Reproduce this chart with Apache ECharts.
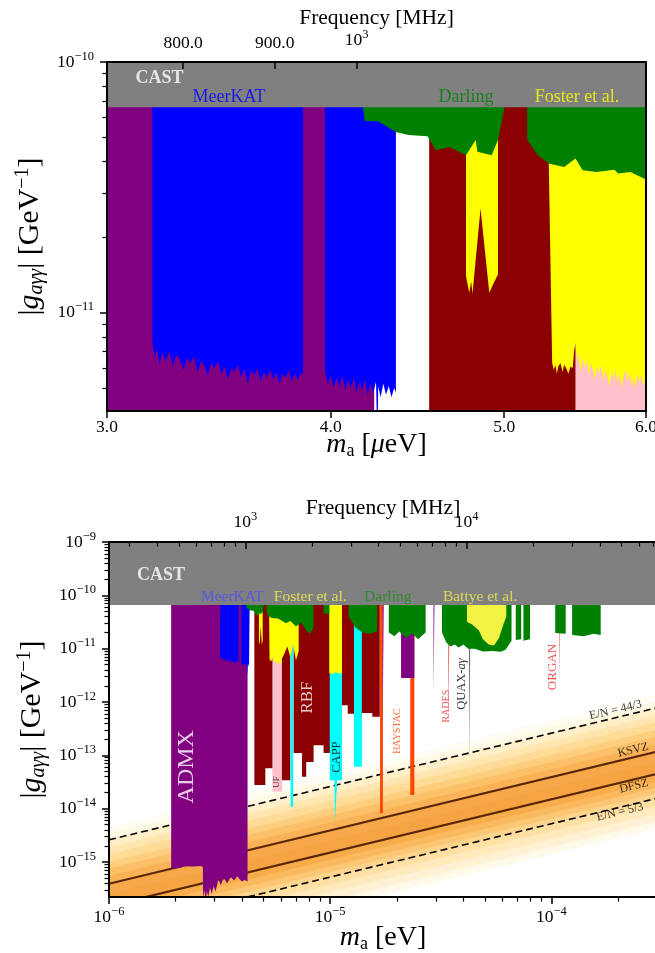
<!DOCTYPE html>
<html><head><meta charset="utf-8">
<script src="https://cdn.jsdelivr.net/npm/echarts@6/dist/echarts.min.js"></script>
<style>html,body{margin:0;padding:0;background:#fff}#c{width:655px;height:953px}</style>
</head><body><div id="c"></div>
<script>
// ================= DATA (mass in eV, coupling in GeV^-1) =================
const castLimit = [[1e-6, 6.6e-11], [3e-4, 6.6e-11]];

const admx = [[1.91e-6,7.7e-16],[2.0e-6,7.5e-16],[2.1e-6,7.8e-16],[2.18e-6,8.3e-16],[2.4e-6,8.2e-16],[2.6e-6,8.4e-16],[2.655e-6,8.0e-16],
 [2.665e-6,2.0e-16],[2.7e-6,3.0e-16],[2.73e-6,1.9e-16],[2.77e-6,2.8e-16],[2.81e-6,2.2e-16],[2.86e-6,3.3e-16],[2.91e-6,2.5e-16],[2.97e-6,3.5e-16],[3.03e-6,2.8e-16],[3.08e-6,3.7e-16],
 [3.12e-6,4.9e-16],[3.2e-6,3.7e-16],[3.3e-6,5.0e-16],[3.42e-6,4.0e-16],[3.55e-6,5.2e-16],[3.68e-6,4.5e-16],[3.8e-6,5.4e-16],[3.9e-6,4.7e-16],[4.0e-6,4.3e-16],[4.1e-6,4.6e-16],[4.23e-6,4.3e-16],
 [4.3e-6,'-'],
 [1.725e-5,2.8e-13],[1.755e-5,2.8e-13],[1.8e-5,'-'],
 [2.09e-5,2.8e-12],[2.40e-5,2.8e-12],[2.6e-5,'-'],
 [2.93e-5,1.5e-12],[2.98e-5,1.5e-12]];

const meerkat = [[3.180e-6,7.7e-12],[3.190e-6,6.6e-12],[3.200e-6,7.2e-12],[3.210e-6,6.2e-12],[3.220e-6,6.9e-12],[3.235e-6,6.4e-12],[3.250e-6,7.0e-12],[3.265e-6,6.1e-12],
 [3.280e-6,6.8e-12],[3.295e-6,6.5e-12],[3.310e-6,5.9e-12],[3.325e-6,6.6e-12],[3.340e-6,6.3e-12],[3.355e-6,6.7e-12],[3.370e-6,5.8e-12],[3.385e-6,6.4e-12],[3.400e-6,6.2e-12],
 [3.415e-6,5.6e-12],[3.430e-6,6.3e-12],[3.445e-6,6.0e-12],[3.460e-6,6.4e-12],[3.475e-6,5.7e-12],[3.490e-6,6.1e-12],[3.505e-6,5.4e-12],[3.520e-6,6.0e-12],[3.535e-6,5.8e-12],
 [3.550e-6,6.2e-12],[3.565e-6,5.5e-12],[3.580e-6,6.0e-12],[3.595e-6,5.2e-12],[3.610e-6,5.9e-12],[3.625e-6,5.6e-12],[3.640e-6,6.0e-12],[3.655e-6,5.3e-12],[3.670e-6,5.8e-12],
 [3.685e-6,5.5e-12],[3.700e-6,5.9e-12],[3.715e-6,5.4e-12],[3.730e-6,5.8e-12],[3.745e-6,5.2e-12],[3.760e-6,5.7e-12],[3.775e-6,5.5e-12],[3.790e-6,5.9e-12],[3.805e-6,5.3e-12],
 [3.820e-6,5.7e-12],[3.835e-6,5.4e-12],[3.850e-6,5.8e-12],[3.860e-6,5.6e-12],
 [3.9e-6,'-'],
 [3.970e-6,5.9e-12],[3.985e-6,5.2e-12],[4.000e-6,5.6e-12],[4.015e-6,5.0e-12],[4.030e-6,5.5e-12],[4.045e-6,5.1e-12],[4.060e-6,5.6e-12],[4.075e-6,4.9e-12],[4.090e-6,5.4e-12],
 [4.105e-6,5.0e-12],[4.120e-6,5.5e-12],[4.135e-6,4.8e-12],[4.150e-6,5.3e-12],[4.165e-6,4.9e-12],[4.180e-6,5.4e-12],[4.195e-6,4.7e-12],[4.210e-6,5.2e-12],[4.225e-6,4.8e-12],
 [4.240e-6,5.3e-12],[4.248e-6,3.0e-12],[4.252e-6,5.1e-12],[4.265e-6,4.6e-12],[4.280e-6,5.2e-12],[4.295e-6,4.7e-12],[4.310e-6,5.1e-12],[4.325e-6,4.6e-12],[4.340e-6,5.0e-12],[4.350e-6,4.8e-12]];

const ufLimit = [[5.48e-6,2.1e-14],[6.05e-6,2.1e-14]];

const rbf = [[4.54e-6,2.76e-14],[5.09e-6,2.76e-14],[5.09e-6,5.7e-14],[5.48e-6,5.7e-14],[5.7e-6,'-'],
 [6.05e-6,3.4e-14],[6.6e-6,3.4e-14],[6.7e-6,'-'],
 [6.83e-6,1.1e-13],[7.45e-6,1.1e-13],[7.45e-6,3.95e-14],[7.79e-6,3.95e-14],[7.79e-6,7.5e-14],[8.41e-6,7.5e-14],[8.41e-6,1.55e-13],[9.33e-6,1.55e-13],
 [9.33e-6,1.1e-13],[1.0e-5,1.1e-13],[1.0e-5,3e-13],[1.13e-5,3e-13],[1.13e-5,8.7e-13],[1.2e-5,8.7e-13],[1.2e-5,6e-13],[1.28e-5,6e-13],[1.28e-5,5e-13],
 [1.39e-5,5e-13],[1.39e-5,6.2e-13],[1.55e-5,6.2e-13],[1.55e-5,5.3e-13],[1.675e-5,5.3e-13]];

const capp = [[6.62e-6,1.08e-14],[6.80e-6,1.08e-14],[7.0e-6,'-'],
 [9.95e-6,3.4e-14],[1.045e-5,3.4e-14],[1.05e-5,5.3e-15],[1.07e-5,5.3e-15],[1.075e-5,3.4e-14],[1.13e-5,3.4e-14],[1.2e-5,'-'],
 [1.28e-5,6.1e-14],[1.39e-5,6.1e-14]];

const haystac = [[1.68e-5,8.2e-15],[1.73e-5,8.2e-15],[2.0e-5,'-'],[2.30e-5,1.8e-14],[2.40e-5,1.8e-14]];
const rades = [[3.42e-5,4.6e-13],[3.49e-5,4.6e-13]];
const quax = [[4.25e-5,7.0e-14],[4.33e-5,7.0e-14]];
const organ = [[1.088e-4,2.23e-12],[1.106e-4,2.23e-12]];

const foster = [[4.760e-6,1.40e-11],[4.770e-6,1.38e-11],[4.780e-6,1.20e-11],[4.792e-6,1.33e-11],[4.800e-6,1.19e-11],[4.810e-6,1.21e-11],[4.850e-6,2.60e-11],[4.905e-6,1.20e-11],
 [4.930e-6,1.30e-11],[4.950e-6,1.38e-11],[4.960e-6,1.42e-11],[5.1e-6,'-'],
 [5.295e-6,3.9e-11],[5.318e-6,6.3e-12],[5.33e-6,5.9e-12],[5.34e-6,6.2e-12],[5.35e-6,5.7e-12],[5.36e-6,6.1e-12],[5.375e-6,6.3e-12],[5.39e-6,5.8e-12],[5.40e-6,6.2e-12],
 [5.415e-6,6.0e-12],[5.43e-6,5.7e-12],[5.445e-6,6.1e-12],[5.46e-6,6.0e-12],[5.47e-6,7.0e-12],[5.48e-6,7.6e-12],[5.49e-6,6.4e-12],[5.50e-6,6.9e-12],[5.515e-6,5.8e-12],
 [5.53e-6,6.6e-12],[5.545e-6,6.0e-12],[5.56e-6,6.5e-12],[5.575e-6,5.6e-12],[5.59e-6,6.3e-12],[5.605e-6,5.9e-12],[5.62e-6,5.4e-12],[5.635e-6,6.1e-12],[5.65e-6,5.7e-12],
 [5.665e-6,6.2e-12],[5.68e-6,5.3e-12],[5.695e-6,5.9e-12],[5.71e-6,5.5e-12],[5.725e-6,5.1e-12],[5.74e-6,5.8e-12],[5.755e-6,5.4e-12],[5.77e-6,5.9e-12],[5.785e-6,5.2e-12],
 [5.80e-6,5.7e-12],[5.815e-6,5.0e-12],[5.83e-6,5.6e-12],[5.845e-6,5.9e-12],[5.86e-6,5.3e-12],[5.875e-6,5.8e-12],[5.89e-6,5.1e-12],[5.905e-6,5.5e-12],[5.92e-6,5.0e-12],
 [5.935e-6,5.7e-12],[5.95e-6,5.3e-12],[5.965e-6,5.6e-12],[5.98e-6,5.1e-12],[5.995e-6,5.4e-12],
 [6.05e-6,6.5e-12],[6.2e-6,8e-12],[6.4e-6,1.1e-11],[6.6e-6,7e-12],[6.8e-6,1.2e-11],[7.0e-6,6e-12],[7.2e-6,9e-12],[8.0e-6,'-'],
 [9.9e-6,3.5e-12],[1.02e-5,3.3e-12],[1.06e-5,3.6e-12],[1.1e-5,3.4e-12],[1.13e-5,3.5e-12]];

const darling = [[4.17e-6,6.5e-11],[4.18e-6,5.82e-11],[4.25e-6,5.80e-11],[4.35e-6,5.26e-11],[4.42e-6,5.11e-11],[4.53e-6,5.06e-11],[4.58e-6,4.45e-11],[4.66e-6,4.58e-11],
 [4.76e-6,4.25e-11],[4.82e-6,4.88e-11],[4.83e-6,4.38e-11],[4.92e-6,4.25e-11],[4.96e-6,4.88e-11],[5.0e-6,6.5e-11],[5.08e-6,'-'],
 [5.15e-6,4.9e-11],[5.22e-6,4.25e-11],[5.30e-6,3.93e-11],[5.40e-6,3.81e-11],[5.48e-6,4.12e-11],[5.53e-6,3.70e-11],[5.63e-6,3.64e-11],[5.76e-6,3.72e-11],
 [5.79e-6,3.59e-11],[5.88e-6,3.64e-11],[6.0e-6,3.40e-11],
 [6.3e-6,3.0e-11],[6.6e-6,3.3e-11],[7.0e-6,2.6e-11],[7.4e-6,3.1e-11],[7.8e-6,2.2e-11],[8.1e-6,1.9e-11],[8.4e-6,2.4e-11],[8.8e-6,'-'],
 [9.33e-6,4.5e-11],[9.9e-6,4.5e-11],[1.1e-5,'-'],
 [1.21e-5,4.0e-11],[1.3e-5,2.5e-11],[1.4e-5,2.0e-11],[1.5e-5,1.9e-11],[1.63e-5,2.1e-11],[1.7e-5,'-'],
 [1.84e-5,2.0e-11],[1.95e-5,1.7e-11],[2.05e-5,2.1e-11],[2.2e-5,1.6e-11],[2.35e-5,1.9e-11],[2.5e-5,1.5e-11],[2.62e-5,1.8e-11],[2.7e-5,2.0e-11],[2.9e-5,'-'],
 [3.2e-5,2.0e-11],[3.35e-5,1.3e-11],[3.5e-5,1.1e-11],[3.65e-5,1.2e-11],[3.8e-5,1.05e-11],[4.0e-5,1.2e-11],[4.2e-5,1.0e-11],[4.5e-5,1.0e-11],[4.9e-5,8.8e-12],
 [5.4e-5,9.0e-12],[5.9e-5,8.7e-12],[6.2e-5,9.5e-12],[6.6e-5,1.4e-11],[6.75e-5,'-'],
 [6.9e-5,1.45e-11],[7.3e-5,1.5e-11],[7.4e-5,'-'],[7.47e-5,1.4e-11],[8.0e-5,1.5e-11],[9e-5,'-'],
 [1.04e-4,1.96e-11],[1.16e-4,1.9e-11],[1.2e-4,'-'],
 [1.24e-4,1.8e-11],[1.4e-4,1.7e-11],[1.55e-4,1.9e-11],[1.67e-4,1.8e-11]];

const battye = [[4.15e-5,3.2e-11],[4.4e-5,2.8e-11],[4.7e-5,2.2e-11],[4.9e-5,1.5e-11],[5.2e-5,1.2e-11],[5.5e-5,1.15e-11],[5.8e-5,1.6e-11],[6.0e-5,2.5e-11],[6.25e-5,4.0e-11]];

// QCD axion band and model lines (values at m = 1e-6 eV and m = 3e-4 eV)
const bandLeft  = [4.6e-15,3.4e-15,2.6e-15,1.9e-15,1.4e-15,1.0e-15,7.5e-16,5.5e-16,3.9e-16,2.5e-16,1.5e-16,1.1e-16,8.3e-17,6.5e-17,5.2e-17,3.8e-17,2.7e-17,1.9e-17,1.4e-17];
const bandRight = [1.38e-12,1.02e-12,7.8e-13,5.7e-13,4.2e-13,3.0e-13,2.25e-13,1.65e-13,1.17e-13,7.5e-14,4.5e-14,3.3e-14,2.49e-14,1.95e-14,1.56e-14,1.14e-14,8.1e-15,5.7e-15,4.2e-15];
const ksvz  = [[1e-6,3.9e-16],[3e-4,1.17e-13]];
const dfsz  = [[1e-6,1.5e-16],[3e-4,4.5e-14]];
const en443 = [[1e-6,2.6e-15],[3e-4,7.8e-13]];
const en53  = [[1e-6,5.2e-17],[3e-4,1.56e-14]];

// tick values
const topMassTicks = [3.0000001e-6, 4e-6, 5e-6, 5.9999999e-6];
const topFreqTicks = [800, 900, 1000];
const topCoupTicks = [1e-11, 0.99999999e-10];
const botMassTicks = [1.0000001e-6, 1e-5, 1e-4];
const botFreqTicks = [1000, 10000];
const botCoupTicks = [1e-15, 1e-14, 1e-13, 1e-12, 1e-11, 1e-10, 0.99999999e-9];

// label anchors [mass, coupling]
const topLabelPos = {CAST:[3.21e-6,8.6e-11], MeerKAT:[3.51e-6,7.2e-11], Darling:[4.76e-6,7.2e-11], Foster:[5.49e-6,7.2e-11]};
const botLabelPos = {CAST:[1.72e-6,2.4e-10], MeerKAT:[3.61e-6,9.4e-11], Foster:[8.12e-6,9.4e-11], Darling:[1.82e-5,9.4e-11], Battye:[4.76e-5,9.4e-11],
  ADMX:[2.25e-6,6.1e-14], RBF:[7.91e-6,1.21e-12], UF:[5.70e-6,3.14e-14], CAPP:[1.075e-5,9.25e-14], HAYSTAC:[2.01e-5,2.84e-13], RADES:[3.34e-5,8.38e-13],
  QUAX:[3.91e-5,2.17e-12], ORGAN:[1.017e-4,4.52e-12], EN443:[1.95e-4,7.05e-13], KSVZ:[2.34e-4,1.25e-13], DFSZ:[2.36e-4,2.64e-14], EN53:[2.04e-4,8.6e-15]};

// ================= CHART =================
const F = '"Liberation Serif","DejaVu Serif",serif';
const bandColors = ['#fffdf3','#fff8e2','#fff0ca','#ffe6b0','#fedb96','#fdce7e','#fbc068','#f9b257','#f7a84a','#f6a443','#f8ad4d','#fab95e','#fcc775','#fdd48d','#fee0a5','#ffeabd','#fff2d4','#fff9ea','#ffffff'];

function minorList(lo, hi, exps){ const out=[]; exps.forEach(e=>{ for(let k=2;k<=9;k++){ const v=k*Math.pow(10,e); if(v>lo && v<hi) out.push(v);} }); return out; }
const topCoupMinor = minorList(4.05e-12, 1e-10, [-12,-11]);
const botCoupMinor = minorList(2.2e-16, 1e-9, [-16,-15,-14,-13,-12,-11,-10]);
const botMassMinor = minorList(1e-6, 2.9e-4, [-6,-5,-4]);
const botFreqMinor = minorList(241.8, 72540, [2,3,4]);

function powLabel(v){ const e=Math.round(Math.log10(v)); return '10{s|'+(e<0?'\u2212'+(-e):e)+'}'; }
const tickRich = { s:{fontSize:12.5, fontFamily:F, color:'#000', padding:[0,0,11,0]} };
const tickFont = {fontFamily:F, fontSize:17.5, color:'#000'};

function axisBase(type, grid, pos, min, max){
  return {type:'log', logBase:10, gridIndex:grid, position:pos, min, max, z:30,
    axisLine:{show:false, onZero:false}, axisTick:{show:false}, axisLabel:{show:false},
    splitLine:{show:false}, minorTick:{show:false}, minorSplitLine:{show:false}, nameMoveOverlap:false};
}
function majorAxis(grid,pos,min,max,ticks,fmt,inside,margin){
  const a = axisBase('log',grid,pos,min,max);
  a.axisLine = {show:true, onZero:false, lineStyle:{color:'#000', width:2}};
  a.axisTick = {show:true, inside:!!inside, length:7, customValues:ticks, lineStyle:{color:'#000', width:1.5}};
  a.axisLabel = Object.assign({show:true, customValues:ticks, formatter:fmt, margin, rich:tickRich}, tickFont);
  return a;
}
function minorAxis(grid,pos,min,max,ticks,inside){
  const a = axisBase('log',grid,pos,min,max);
  a.axisTick = {show:true, inside:!!inside, length:4.5, customValues:ticks, lineStyle:{color:'#000', width:1.2}};
  return a;
}
function frameAxis(grid,pos,min,max){
  const a = axisBase('log',grid,pos,min,max);
  a.axisLine = {show:true, onZero:false, lineStyle:{color:'#000', width:2}};
  return a;
}

const massName = (unit,gap)=>({name:'{i|m}{b|a} ['+unit+'eV]', nameLocation:'middle', nameGap:gap,
  nameTextStyle:{fontFamily:F, fontSize:28, color:'#000', rich:{i:{fontFamily:F,fontSize:28,fontStyle:'italic'}, b:{fontFamily:F,fontSize:18,padding:[12,0,0,0]}}}});
const coupName = {name:'|{i|g}{b|a\u03b3\u03b3}| [GeV{p|\u22121}]', nameLocation:'middle', nameGap:60, nameRotate:90,
  nameTextStyle:{fontFamily:F, fontSize:30, color:'#000', rich:{i:{fontFamily:F,fontSize:30,fontStyle:'italic'}, b:{fontFamily:F,fontSize:20,fontStyle:'italic',padding:[13,0,0,0]}, p:{fontFamily:F,fontSize:20,padding:[0,0,14,0]}}}};
const freqName = (gap)=>({name:'Frequency [MHz]', nameLocation:'middle', nameGap:gap, nameTextStyle:{fontFamily:F, fontSize:21.5, color:'#000'}});

const xAxes = [
  Object.assign(majorAxis(0,'bottom',3e-6,6e-6,topMassTicks,v=>(v*1e6).toFixed(1),false,7), massName('{i|\u03bc}',19)),
  Object.assign(majorAxis(0,'top',725.4,1450.8,topFreqTicks,v=>v>=999?'10{s|3}':v.toFixed(1),true,10), freqName(33)),
  Object.assign(majorAxis(1,'bottom',1e-6,3e-4,botMassTicks,powLabel,false,8), massName('',26)),
  minorAxis(1,'bottom',1e-6,3e-4,botMassMinor,false),
  Object.assign(majorAxis(1,'top',241.8,72540,botFreqTicks,powLabel,true,8), freqName(23)),
  minorAxis(1,'top',241.8,72540,botFreqMinor,true)
];
const yAxes = [
  Object.assign(majorAxis(0,'left',4.05e-12,1e-10,topCoupTicks,powLabel,false,13), coupName),
  minorAxis(0,'left',4.05e-12,1e-10,topCoupMinor,false),
  Object.assign(majorAxis(1,'left',2.2e-16,1e-9,botCoupTicks,powLabel,false,13), coupName),
  minorAxis(1,'left',2.2e-16,1e-9,botCoupMinor,false),
  frameAxis(0,'right',4.05e-12,1e-10),
  frameAxis(1,'right',2.2e-16,1e-9)
];

const series = [];
let zc = 1;
function region(data, color, panels){
  const z = zc++;
  panels.forEach(p=>{
    series.push({type:'line', xAxisIndex:p===0?0:2, yAxisIndex:p===0?0:2, data, symbol:'none', showSymbol:false, connectNulls:false,
      lineStyle:{width:0, opacity:0}, areaStyle:{color, opacity:1, origin:'end'}, silent:true, animation:false, clip:true, z});
  });
}
// QCD band layers (bottom panel only)
bandLeft.forEach((c,i)=>{
  series.push({type:'line', xAxisIndex:2, yAxisIndex:2, data:[[1e-6,c],[3e-4,bandRight[i]]], symbol:'none', lineStyle:{width:0,opacity:0},
    areaStyle:{color:bandColors[i], opacity:1, origin:'start'}, silent:true, animation:false, clip:true, z:1});
});
function modelLine(data, color, width, type){
  series.push({type:'line', xAxisIndex:2, yAxisIndex:2, data, symbol:'none', lineStyle:{color, width, type}, silent:true, animation:false, clip:true, z:2});
}
modelLine(en443,'#000',1.6,[7,4]);
modelLine(en53,'#000',1.6,[7,4]);
modelLine(ksvz,'#5a2608',2.2,'solid');
modelLine(dfsz,'#5a2608',2.2,'solid');
zc = 3;
region(haystac,'#ff4500',[1]);
region(admx,'#800080',[0,1]);
region(ufLimit,'#ffc0cb',[0,1]);
region(rbf,'#8b0000',[0,1]);
region(capp,'#00ffff',[1]);
region(rades,'#e8282b',[1]);
region(quax,'#444444',[1]);
region(organ,'#e8282b',[1]);
region(meerkat,'#0000ff',[0,1]);
region(foster,'#ffff00',[0,1]);
region(darling,'#008000',[0,1]);
region(battye,'#f2f244',[1]);
region(castLimit,'#808080',[0,1]);

function textSeries(panel, items){
  series.push({type:'scatter', xAxisIndex:panel===0?0:2, yAxisIndex:panel===0?0:2, symbolSize:1, silent:true, animation:false, z:25,
    itemStyle:{color:'rgba(0,0,0,0)'},
    data: items.map(it=>({value:it.pos, label:{show:true, position:'inside', formatter:it.text, rotate:it.rot||0, color:it.color,
      fontSize:it.size, fontFamily:F, fontWeight:it.bold?'bold':'normal', rich:{i:{fontFamily:F,fontSize:it.size,fontStyle:'italic',color:it.color}}}}))});
}
textSeries(0,[
  {pos:topLabelPos.CAST, text:'CAST', color:'#fff', size:18, bold:true},
  {pos:topLabelPos.MeerKAT, text:'MeerKAT', color:'#0000ff', size:18},
  {pos:topLabelPos.Darling, text:'Darling', color:'#008000', size:18},
  {pos:topLabelPos.Foster, text:'Foster et al.', color:'#ffff00', size:18}
]);
textSeries(1,[
  {pos:botLabelPos.CAST, text:'CAST', color:'#fff', size:18, bold:true},
  {pos:botLabelPos.MeerKAT, text:'MeerKAT', color:'#4d4dff', size:15.5},
  {pos:botLabelPos.Foster, text:'Foster et al.', color:'#f2f24a', size:15.5},
  {pos:botLabelPos.Darling, text:'Darling', color:'#1a8c1a', size:15.5},
  {pos:botLabelPos.Battye, text:'Battye et al.', color:'#ecec48', size:15.5},
  {pos:botLabelPos.ADMX, text:'ADMX', color:'#fff', size:24, rot:90},
  {pos:botLabelPos.RBF, text:'RBF', color:'#fff', size:17, rot:90},
  {pos:botLabelPos.UF, text:'UF', color:'#000', size:9, rot:90},
  {pos:botLabelPos.CAPP, text:'CAPP', color:'#000', size:12.5, rot:90},
  {pos:botLabelPos.HAYSTAC, text:'HAYSTAC', color:'#ff4500', size:10, rot:90},
  {pos:botLabelPos.RADES, text:'RADES', color:'#e8282b', size:10, rot:90},
  {pos:botLabelPos.QUAX, text:'QUAX-{i|a\u03b3}', color:'#000', size:12.5, rot:90},
  {pos:botLabelPos.ORGAN, text:'ORGAN', color:'#e8282b', size:13, rot:90},
  {pos:botLabelPos.EN443, text:'E/N = 44/3', color:'#000', size:12, rot:13.5},
  {pos:botLabelPos.KSVZ, text:'KSVZ', color:'#000', size:12, rot:13.5},
  {pos:botLabelPos.DFSZ, text:'DFSZ', color:'#000', size:12, rot:13.5},
  {pos:botLabelPos.EN53, text:'E/N = 5/3', color:'#000', size:12, rot:13.5}
]);

const chart = echarts.init(document.getElementById('c'), null, {renderer:'canvas'});
chart.setOption({
  animation:false,
  backgroundColor:'#fff',
  grid:[{left:107, top:62, width:539, height:349, containLabel:false, outerBoundsMode:'none'},
        {left:109, top:542, width:548, height:355, containLabel:false, outerBoundsMode:'none'}],
  xAxis:xAxes, yAxis:yAxes, series
});
</script></body></html>
